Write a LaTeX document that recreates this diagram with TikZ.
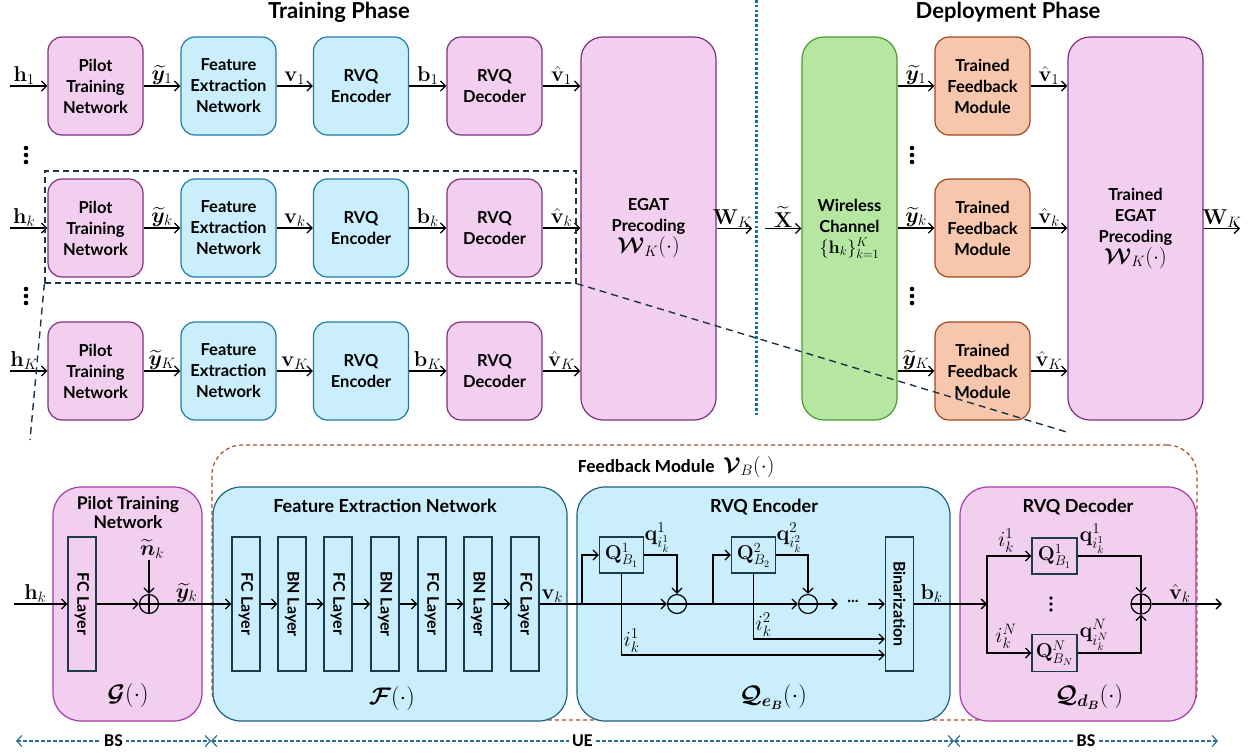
\RequirePackage{fix-cm}
\documentclass[tikz,border=0pt]{standalone}
\usepackage{amsmath,bm,graphicx}
\usepackage[no-math]{fontspec}
\setmainfont{Lato}
\newfontfamily\narrowsf{Carlito}
\usetikzlibrary{arrows.meta,calc}

\definecolor{pfill}{HTML}{F2CFEE}
\definecolor{pdraw}{HTML}{7F2F82}
\definecolor{pdrawb}{HTML}{A63AA8}
\definecolor{bfill}{HTML}{CAEEFB}
\definecolor{bdraw}{HTML}{1F7BA6}
\definecolor{bdrawb}{HTML}{215F80}
\definecolor{gfill}{HTML}{B5E6A2}
\definecolor{gdraw}{HTML}{4E9A2E}
\definecolor{ofill}{HTML}{F6C6AD}
\definecolor{odraw}{HTML}{A0481E}
\definecolor{layerc}{HTML}{1B3A4A}
\definecolor{selc}{HTML}{1E3444}
\definecolor{phasec}{HTML}{1A6E9E}
\definecolor{fbc}{HTML}{A0522D}
\definecolor{spanc}{HTML}{2B6E94}

\newcommand\boxfont{\fontsize{16.5}{21}\selectfont\bfseries}
\newcommand\subfont{\fontsize{16}{19}\selectfont\bfseries}
\newcommand\ptnfont{\fontsize{17.5}{19.5}\selectfont\bfseries}
\newcommand\titfont{\fontsize{18}{20}\selectfont\bfseries}
\newcommand\lblfont{\fontsize{21.5}{24}\selectfont}
\newcommand\qfont{\fontsize{20}{22}\selectfont}
\newcommand\fnfont{\fontsize{24}{26}\selectfont}

\begin{document}
\begin{tikzpicture}[x=1pt,y=-1pt,
  >={Straight Barb[length=5pt,width=10pt]},
  conn/.style={->, line width=1.3pt},
  tbox/.style={rounded corners=14pt, line width=1.2pt, align=center, font=\boxfont,
    minimum width=95pt, minimum height=98pt, inner sep=0pt},
  ptb/.style={tbox, draw=pdraw, fill=pfill},
  btb/.style={tbox, draw=bdraw, fill=bfill},
  otb/.style={tbox, draw=odraw, fill=ofill},
  bigb/.style={rounded corners=22pt, line width=1.2pt, align=center, font=\boxfont,
    inner sep=0pt, minimum width=135pt, minimum height=383pt},
  lbl/.style={font=\lblfont, inner sep=0.5pt, anchor=south},
  bbox/.style={rounded corners=28pt, line width=1.2pt, minimum height=234pt, inner sep=0pt},
  layer/.style={draw=layerc, line width=1.2pt, minimum width=28pt, minimum height=134pt,
    inner sep=0pt, font=\subfont},
  qbox/.style={draw=layerc, line width=1.2pt, minimum width=44pt, minimum height=36pt,
    inner sep=0pt, font=\qfont},
  osum/.style={circle, draw, line width=1.2pt, minimum size=19pt, inner sep=0pt,
    path picture={\draw[line width=1.2pt] (path picture bounding box.north) -- (path picture bounding box.south)
      (path picture bounding box.west) -- (path picture bounding box.east);}},
  omin/.style={circle, draw, line width=1.2pt, minimum size=19pt, inner sep=0pt,
    path picture={\draw[line width=1.2pt] (path picture bounding box.west) -- (path picture bounding box.east);}},
  zoomline/.style={draw=selc, line width=1.4pt, dash pattern=on 7pt off 5pt},
  spanline/.style={{Straight Barb[length=5pt,width=11pt]}-{Straight Barb[length=5pt,width=11pt]},
    draw=spanc, line width=1.2pt, dash pattern=on 3.5pt off 2.5pt},
  spanlbl/.style={fill=white, inner sep=3pt, font=\narrowsf\fontsize{18}{20}\selectfont\bfseries},
]
\useasboundingbox (0,0) rectangle (1249,753);

% ---------------- phase titles and divider ----------------
\node[font=\fontsize{22}{24}\selectfont\bfseries] (ttrain) at (339,12) {Training Phase};
\node[font=\fontsize{22}{24}\selectfont\bfseries] (tdeploy) at (1008,12) {Deployment Phase};
\coordinate (ph0) at (756,0);
\coordinate (ph1) at (756,417);
\draw[phasec, line width=3pt, dash pattern=on 2.6pt off 2.2pt] (ph0) -- (ph1);

% ---------------- training phase ----------------
\node[bigb, draw=pdraw, fill=pfill] (eg) at (648.5,228.5)
  {EGAT\\Precoding\\{\lblfont$\bm{\mathcal{W}}_{K}(\cdot)$}};

% ---------------- deployment phase ----------------
\node[bigb, draw=gdraw, fill=gfill, minimum width=95pt] (wc) at (849.5,228.5)
  {Wireless\\Channel\\{\fontsize{18}{20}\selectfont$\{\mathbf{h}_k\}_{k=1}^{K}$}};
\node[bigb, draw=pdraw, fill=pfill] (te) at (1135.5,228.5)
  {Trained\\EGAT\\Precoding\\{\lblfont$\bm{\mathcal{W}}_{K}(\cdot)$}};

\foreach \r/\y/\s in {1/86/1, k/228/k, K/371/K}{
  \node[ptb] (pt\r) at (95.5,\y) {Pilot\\Training\\Network};
  \node[btb] (fe\r) at (228.5,\y) {Feature\\Extraction\\Network};
  \node[btb] (en\r) at (361,\y) {RVQ\\Encoder};
  \node[ptb] (de\r) at (494.5,\y) {RVQ\\Decoder};
  \coordinate (hin\r) at (10,\y);
  \draw[conn] (hin\r) -- node[lbl,pos=0.38]{$\mathbf{h}_{\s}$} (pt\r);
  \draw[conn] (pt\r) -- node[lbl]{$\widetilde{\bm{y}}_{\s}$} (fe\r);
  \draw[conn] (fe\r) -- node[lbl]{$\mathbf{v}_{\s}$} (en\r);
  \draw[conn] (en\r) -- node[lbl]{$\mathbf{b}_{\s}$} (de\r);
  \draw[conn] (de\r) -- node[lbl]{$\hat{\mathbf{v}}_{\s}$} (de\r -| eg.west);
  \node[otb] (tf\r) at (982.5,\y) {Trained\\Feedback\\Module};
  \draw[conn] (wc.east |- tf\r) -- node[lbl]{$\widetilde{\bm{y}}_{\s}$} (tf\r);
  \draw[conn] (tf\r) -- node[lbl]{$\hat{\mathbf{v}}_{\s}$} (tf\r -| te.west);
}

\foreach \yy in {148,155,162,289,296,303}{
  \fill (26,\yy) circle (2.3pt);
  \fill (912,\yy) circle (2.3pt);
}

\coordinate (wkend) at (752,228.5);
\draw[conn] (eg.east) -- node[lbl,pos=0.45]{$\mathbf{W}_{K}$} (wkend);
\coordinate (xin) at (765,228.5);
\draw[conn] (xin) -- node[lbl]{$\widetilde{\mathbf{X}}$} (wc.west);
\coordinate (wout) at (1240,228.5);
\draw[conn] (te.east) -- node[lbl]{$\mathbf{W}_{K}$} (wout);

% highlighted user row and zoom lines
\node[draw=selc, line width=1.3pt, dash pattern=on 6pt off 4pt, minimum width=531pt,
  minimum height=112pt, inner sep=0pt] (sel) at (310.5,227) {};
\coordinate (zl) at (30,440);
\coordinate (zr) at (1070,433);
\draw[zoomline] (sel.south west) -- (zl);
\draw[zoomline] (sel.south east) -- (zr);

% ---------------- feedback module detail ----------------
\node[draw=fbc, line width=1.2pt, dash pattern=on 4pt off 3pt, rounded corners=30pt,
  minimum width=985pt, minimum height=275pt, inner sep=0pt] (fm) at (704.5,582.5) {};
\node[anchor=west, inner sep=0pt, font=\narrowsf\fontsize{18.5}{20}\selectfont\bfseries] (fmt) at (578,467)
  {Feedback Module\ \ {\lblfont$\bm{\mathcal{V}}_{B}(\cdot)$}};

% pilot training network
\node[bbox, draw=pdrawb, fill=pfill, minimum width=149pt] (gb) at (127.5,604) {};
\node[font=\ptnfont, align=center] (gbt) at (128,512.5) {Pilot Training\\Network};
\node[layer, fill=pfill] (gfc) at (82,604) {\rotatebox{-90}{FC Layer}};
\node[osum] (gsum) at (149,604) {};
\node[font=\lblfont, inner sep=1pt] (nk) at (152,549) {$\widetilde{\bm{n}}_k$};
\node[font=\fnfont] (gbf) at (128,695) {$\bm{\mathcal{G}}(\cdot)$};
\coordinate (hkb) at (14,604);
\draw[conn] (hkb) -- node[lbl,pos=0.4]{$\mathbf{h}_k$} (gfc);
\draw[conn] (gfc) -- (gsum);
\draw[conn] (nk.south -| gsum) -- (gsum.north);

% feature extraction network
\node[bbox, draw=bdrawb, fill=bfill, minimum width=354pt] (fb) at (390,604) {};
\node[font=\titfont] (fbt) at (385,506) {Feature Extraction Network};
\foreach \i/\xx/\t in {1/246/FC,2/292/BN,3/338/FC,4/385/BN,5/432/FC,6/478/BN,7/525/FC}{
  \node[layer, fill=bfill] (fl\i) at (\xx,604) {\rotatebox{-90}{\t\ Layer}};
}
\foreach \i [count=\j from 2] in {1,...,6}{
  \draw[conn] (fl\i) -- (fl\j);
}
\node[font=\fnfont] (fbf) at (392,698) {$\bm{\mathcal{F}}(\cdot)$};
\draw[conn] (gsum) -- node[lbl,pos=0.38]{$\widetilde{\bm{y}}_k$} (fl1);

% RVQ encoder
\node[bbox, draw=bdrawb, fill=bfill, minimum width=373pt] (eb) at (763.5,604) {};
\node[font=\titfont] (ebt) at (764,507) {RVQ Encoder};
\node[qbox] (qe1) at (621.5,555) {$\mathbf{Q}^{1}_{B_1}$};
\node[qbox] (qe2) at (753.5,555) {$\mathbf{Q}^{2}_{B_2}$};
\node[omin] (m1) at (677,604) {};
\node[omin] (m2) at (808,604) {};
\node[inner sep=0pt, minimum width=30pt, font=\fontsize{16}{18}\selectfont\bfseries] (dd) at (853,601) {...};
\node[layer, fill=bfill] (bin) at (899.5,604) {\rotatebox{-90}{Binarization}};
\coordinate (br1) at (582,604);
\coordinate (br2) at (713,604);
\draw[conn] (fl7) -- node[lbl,pos=0.1]{$\mathbf{v}_k$} (m1);
\draw[conn] (br1) |- (qe1.west);
\draw[conn] (qe1.east) -| (m1.north);
\draw[conn] (m1) -- (m2);
\draw[conn] (br2) |- (qe2.west);
\draw[conn] (qe2.east) -| (m2.north);
\draw[conn] (m2.east) -- (m2.east -| dd.west);
\draw[conn] (dd.east |- bin.west) -- (bin.west);
\draw[conn] (qe1.south) |- ($(bin.west)+(0,51)$);
\draw[conn] (qe2.south) |- ($(bin.west)+(0,35)$);
\node[font=\lblfont, anchor=south west, inner sep=0.5pt] (lq1) at (644,553) {$\mathbf{q}^{1}_{i^1_k}$};
\node[font=\lblfont, anchor=south west, inner sep=0.5pt] (lq2) at (776,553) {$\mathbf{q}^{2}_{i^2_k}$};
\node[font=\lblfont, anchor=south west, inner sep=0.5pt] (li1) at (623,653) {$i^{1}_{k}$};
\node[font=\lblfont, anchor=south west, inner sep=0.5pt] (li2) at (755,637) {$i^{2}_{k}$};
\node[font=\fnfont] (ebf) at (773,697) {$\bm{\mathcal{Q}}_{\bm{e}_{\bm{B}}}(\cdot)$};

% RVQ decoder
\node[bbox, draw=pdrawb, fill=pfill, minimum width=236pt] (db) at (1078,604) {};
\node[font=\titfont] (dbt) at (1078,507) {RVQ Decoder};
\node[qbox, minimum width=45pt] (qd1) at (1054.5,556) {$\mathbf{Q}^{1}_{B_1}$};
\node[qbox, minimum width=45pt, minimum height=37pt] (qdN) at (1054.5,653) {$\mathbf{Q}^{N}_{B_N}$};
\node[osum, minimum size=20pt] (pl) at (1141,604) {};
\foreach \yy in {598,604,610}{ \fill (1051,\yy) circle (1.9pt); }
\coordinate (dj) at (987,604);
\coordinate (vout) at (1222,604);
\draw[conn] (bin) -- node[lbl,pos=0.24]{$\mathbf{b}_k$} (dj);
\draw[conn] (dj) |- (qd1.west);
\draw[conn] (dj) |- (qdN.west);
\draw[conn] (qd1.east) -| (pl.north);
\draw[conn] (qdN.east) -| (pl.south);
\draw[conn] (pl) -- node[lbl,pos=0.4]{$\hat{\mathbf{v}}_k$} (vout);
\node[font=\lblfont, anchor=south, inner sep=0.5pt] (ld1) at (1006,553) {$i^{1}_{k}$};
\node[font=\lblfont, anchor=south, inner sep=0.5pt] (ldN) at (1006,649) {$i^{N}_{k}$};
\node[font=\lblfont, anchor=south west, inner sep=0.5pt] (lqd1) at (1079,554) {$\mathbf{q}^{1}_{i^1_k}$};
\node[font=\lblfont, anchor=south west, inner sep=0.5pt] (lqdN) at (1079,651) {$\mathbf{q}^{N}_{i^N_k}$};
\node[font=\fnfont] (dbf) at (1089,697) {$\bm{\mathcal{Q}}_{\bm{d}_{\bm{B}}}(\cdot)$};

% ---------------- BS / UE spans ----------------
\coordinate (s0) at (16,741);
\coordinate (s1) at (211,741);
\coordinate (s2) at (954,741);
\coordinate (s3) at (1218,741);
\draw[spanline] (s0) -- node[spanlbl]{BS} (s1);
\draw[spanline] (s1) -- node[spanlbl]{UE} (s2);
\draw[spanline] (s2) -- node[spanlbl]{BS} (s3);
\end{tikzpicture}
\end{document}
